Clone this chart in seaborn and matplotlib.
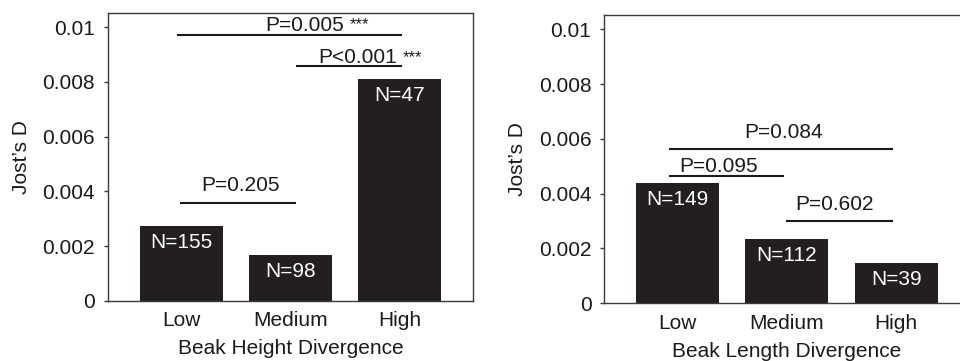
import matplotlib
matplotlib.use("Agg")
import matplotlib.pyplot as plt
import seaborn as sns
import pandas as pd

sns.set_style("ticks")
plt.rcParams['font.family'] = ['Liberation Sans', 'DejaVu Sans']

categories = ["Low", "Medium", "High"]
height_vals = [0.00275, 0.00167, 0.00812]
height_n = ["N=155", "N=98", "N=47"]
length_vals = [0.00438, 0.00234, 0.00146]
length_n = ["N=149", "N=112", "N=39"]
yticks = [0, 0.002, 0.004, 0.006, 0.008, 0.01]
ytick_labels = ["0", "0.002", "0.004", "0.006", "0.008", "0.01"]

BAR = "#231f20"
SPINE = "#3a3a3a"
FS = 15

fig = plt.figure(figsize=(9.6, 3.61), dpi=100)
ax1 = fig.add_axes([108/960, 60/361, 365/960, 288/361])
ax2 = fig.add_axes([604.3/960, 57.7/361, 365/960, 288.3/361])


def draw(ax, vals, nlabels, xlabel):
    df = pd.DataFrame({"cat": categories, "val": vals})
    sns.barplot(data=df, x="cat", y="val", ax=ax, color=BAR, saturation=1,
                width=0.76, edgecolor=BAR, linewidth=0)
    ax.set_xlim(-0.67, 2.67)
    ax.set_ylim(0, 0.01052)
    ax.set_yticks(yticks)
    ax.set_yticklabels(ytick_labels)
    ax.tick_params(axis='y', length=3, width=1, pad=6.3, labelsize=FS, color=SPINE,
                   labelcolor='#1a1a1a')
    ax.tick_params(axis='x', length=0, pad=7.5, labelsize=FS, labelcolor='#1a1a1a')
    ax.set_xlabel(xlabel, fontsize=FS, labelpad=6.5, color='#1a1a1a')
    ax.set_ylabel("Jost\u2019s D", fontsize=FS, labelpad=8.5, color='#1a1a1a')
    for s in ax.spines.values():
        s.set_visible(True)
        s.set_color(SPINE)
        s.set_linewidth(1)
    for i, (v, n) in enumerate(zip(vals, nlabels)):
        ax.annotate(n, xy=(i, v), xytext=(0, -12), textcoords='offset points',
                    ha='center', va='center', color='white', fontsize=FS)


def sig(ax, x0, x1, y, text, tx, ty, stars=None, sx=None, sy=None):
    ax.plot([x0, x1], [y, y], color='#1a1a1a', lw=1.5, solid_capstyle='butt')
    ax.text(tx, ty, text, ha='center', va='baseline', fontsize=FS, color='#1a1a1a')
    if stars:
        ax.text(sx, sy, stars, ha='left', va='center', fontsize=12, color='#1a1a1a')


draw(ax1, height_vals, height_n, "Beak Height Divergence")
draw(ax2, length_vals, length_n, "Beak Length Divergence")

# left panel comparisons
sig(ax1, -0.01, 1.05, 0.00357, "P=0.205", 0.54, 0.00402)
sig(ax1, -0.04, 2.02, 0.00973, "P=0.005", 1.13, 0.00986, "***", 1.54, 0.0101)
sig(ax1, 1.05, 2.02, 0.00859, "P<0.001", 1.61, 0.00868, "***", 2.03, 0.00890)

# right panel comparisons
sig(ax2, -0.08, 1.97, 0.00563, "P=0.084", 0.97, 0.00602)
sig(ax2, -0.08, 0.97, 0.00465, "P=0.095", 0.38, 0.00478)
sig(ax2, 0.99, 1.97, 0.00302, "P=0.602", 1.44, 0.00340)

fig.savefig("out.png", dpi=100)
